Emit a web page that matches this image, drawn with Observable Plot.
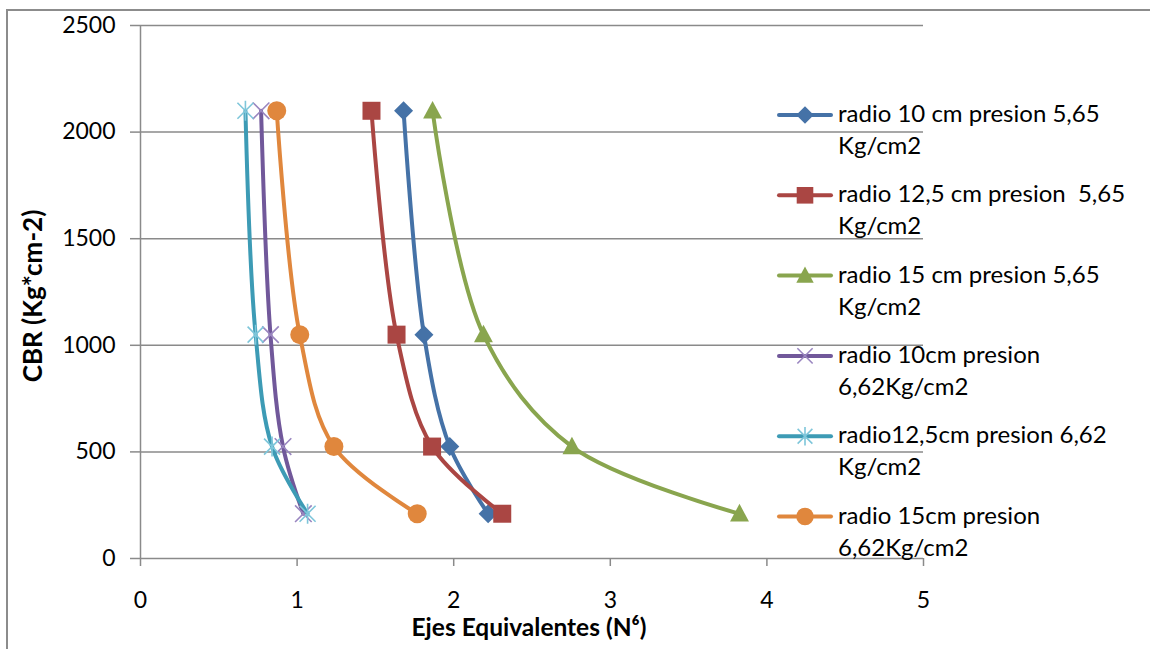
<!DOCTYPE html>
<html>
<head>
<meta charset="utf-8">
<script src="https://cdn.jsdelivr.net/npm/d3@7"></script>
<script src="https://cdn.jsdelivr.net/npm/@observablehq/plot@0.6"></script>
<style>
  html, body { margin: 0; padding: 0; background: #fff; }
  #wrap { position: relative; width: 1150px; height: 649px; overflow: hidden; font-family: Lato, "Open Sans", sans-serif; }
  #frame { position: absolute; left: 6px; top: 9px; width: 1300px; height: 800px;
           border-left: 2px solid #8c8c8c; border-top: 2px solid #8c8c8c; }
  #chart, #legend { position: absolute; left: 0; top: 0; }
</style>
</head>
<body>
<div id="wrap">
  <div id="frame"></div>
  <div id="chart"></div>
  <svg id="legend" width="1150" height="649"></svg>
</div>
<script>
// CBR levels (Kg*cm-2) shared by every series
const cbr = [2100, 1050, 525, 210];

// Equivalent axles (N^6) for each series, in the order of the CBR levels
const ejesR10P565 = [1.68, 1.81, 1.975, 2.22];
const ejesR125P565 = [1.475, 1.635, 1.862, 2.31];
const ejesR15P565 = [1.865, 2.19, 2.755, 3.825];
const ejesR10P662 = [0.77, 0.83, 0.91, 1.04];
const ejesR125P662 = [0.67, 0.735, 0.84, 1.067];
const ejesR15P662 = [0.87, 1.017, 1.235, 1.767];

// Legend labels (line breaks as written in the legend)
const seriesNames = [
  "radio 10 cm presion 5,65\nKg/cm2",
  "radio 12,5 cm presion  5,65\nKg/cm2",
  "radio 15 cm presion 5,65\nKg/cm2",
  "radio 10cm presion\n6,62Kg/cm2",
  "radio12,5cm presion 6,62\nKg/cm2",
  "radio 15cm presion\n6,62Kg/cm2"
];

const xTicks = [0, 1, 2, 3, 4, 5];
const yTicks = [0, 500, 1000, 1500, 2000, 2500];
const xTitle = "Ejes Equivalentes (N\u2076)";
const yTitle = "CBR (Kg*cm-2)";

// Marker shapes (size is the symbol area, r = sqrt(size / PI))
const rad = (size) => Math.sqrt(size / Math.PI);
const shapes = {
  diamond: { draw(c, s) { const r = rad(s); c.moveTo(0, -r); c.lineTo(r, 0); c.lineTo(0, r); c.lineTo(-r, 0); c.closePath(); } },
  square: { draw(c, s) { const r = rad(s); c.rect(-r, -r, 2 * r, 2 * r); } },
  triangle: { draw(c, s) { const r = rad(s); c.moveTo(0, -1.1 * r); c.lineTo(1.05 * r, 0.85 * r); c.lineTo(-1.05 * r, 0.85 * r); c.closePath(); } },
  times: { draw(c, s) { const r = rad(s); c.moveTo(-r, -r); c.lineTo(r, r); c.moveTo(-r, r); c.lineTo(r, -r); } },
  star: { draw(c, s) { const r = rad(s), d = 0.8 * r; c.moveTo(-d, -d); c.lineTo(d, d); c.moveTo(-d, d); c.lineTo(d, -d); c.moveTo(0, -r); c.lineTo(0, r); } },
  circle: { draw(c, s) { const r = rad(s); c.moveTo(r, 0); c.arc(0, 0, r, 0, 2 * Math.PI); } }
};

const styles = [
  { line: "#4572a7", mark: "#4572a7", shape: shapes.diamond, r: 9.5, filled: true },
  { line: "#aa4643", mark: "#aa4643", shape: shapes.square, r: 9, filled: true },
  { line: "#89a54e", mark: "#89a54e", shape: shapes.triangle, r: 9, filled: true },
  { line: "#71589a", mark: "#9a86c0", shape: shapes.times, r: 8.3, filled: false },
  { line: "#3d9bb5", mark: "#7ec6da", shape: shapes.star, r: 10, filled: false },
  { line: "#e0873d", mark: "#e0873d", shape: shapes.circle, r: 9.5, filled: true }
];

const seriesX = [ejesR10P565, ejesR125P565, ejesR15P565, ejesR10P662, ejesR125P662, ejesR15P662];
const series = seriesNames.map((name, i) => ({
  name,
  rows: cbr.map((y, j) => ({ x: seriesX[i][j], y }))
}));

const grid = "#8a8a8a";

const seriesMarks = series.flatMap((s, i) => {
  const st = styles[i];
  return [
    Plot.line(s.rows, { x: "x", y: "y", stroke: st.line, strokeWidth: 4, curve: "catmull-rom", strokeLinecap: "round", strokeLinejoin: "round" }),
    Plot.dot(s.rows, {
      x: "x", y: "y", symbol: st.shape, r: st.r,
      fill: st.filled ? st.mark : "none",
      stroke: st.filled ? "none" : st.mark,
      strokeWidth: st.filled ? 0 : 1.6
    })
  ];
});

const chart = Plot.plot({
  width: 1150,
  height: 649,
  marginLeft: 140,
  marginRight: 227,
  marginTop: 25,
  marginBottom: 91,
  style: { background: "transparent", fontFamily: "Lato, 'Open Sans', sans-serif", fontSize: "23px", color: "#000" },
  x: { domain: [0, 5] },
  y: { domain: [0, 2500] },
  marks: [
    Plot.gridY(yTicks, { stroke: grid, strokeOpacity: 1, strokeWidth: 1.5 }),
    Plot.ruleX([0], { stroke: grid, strokeWidth: 1.5 }),
    Plot.axisX(xTicks, { tickSize: 8, tickPadding: 25, tickFormat: (d) => String(d), stroke: grid, strokeWidth: 1.5, fill: "#000", label: null }),
    Plot.axisY(yTicks, { tickSize: 10, tickPadding: 15, tickFormat: (d) => String(d), stroke: grid, strokeWidth: 1.5, fill: "#000", label: null }),
    Plot.text([xTitle], { frameAnchor: "bottom", dy: 77, dx: -3, fontWeight: "bold", fontSize: 24.5, fill: "#000" }),
    Plot.text([yTitle], { frameAnchor: "left", textAnchor: "middle", lineAnchor: "middle", rotate: -90, dx: -107, dy: 4, fontWeight: "bold", fontSize: 26, fill: "#000" }),
    ...seriesMarks
  ]
});
document.getElementById("chart").appendChild(chart);

// Legend drawn beside the plot, overlapping its right part
const legend = d3.select("#legend");
const rowGap = 80.3;
series.forEach((s, i) => {
  const st = styles[i];
  const g = legend.append("g").attr("transform", `translate(777,${115 + i * rowGap})`);
  g.append("line").attr("x1", 2).attr("x2", 54).attr("y1", 0).attr("y2", 0)
    .attr("stroke", st.line).attr("stroke-width", 4).attr("stroke-linecap", "round");
  g.append("path").attr("transform", "translate(28,0)")
    .attr("d", d3.symbol(st.shape, Math.PI * st.r * st.r * 0.85)())
    .attr("fill", st.filled ? st.mark : "none")
    .attr("stroke", st.filled ? "none" : st.mark)
    .attr("stroke-width", st.filled ? 0 : 1.6);
  const t = g.append("text").attr("x", 61).attr("font-size", 24)
    .attr("font-family", "Lato, 'Open Sans', sans-serif").attr("fill", "#000");
  s.name.split("\n").forEach((line, k) => {
    t.append("tspan").attr("x", 61).attr("y", 7 + k * 32).attr("xml:space", "preserve").text(line);
  });
});
</script>
</body>
</html>
